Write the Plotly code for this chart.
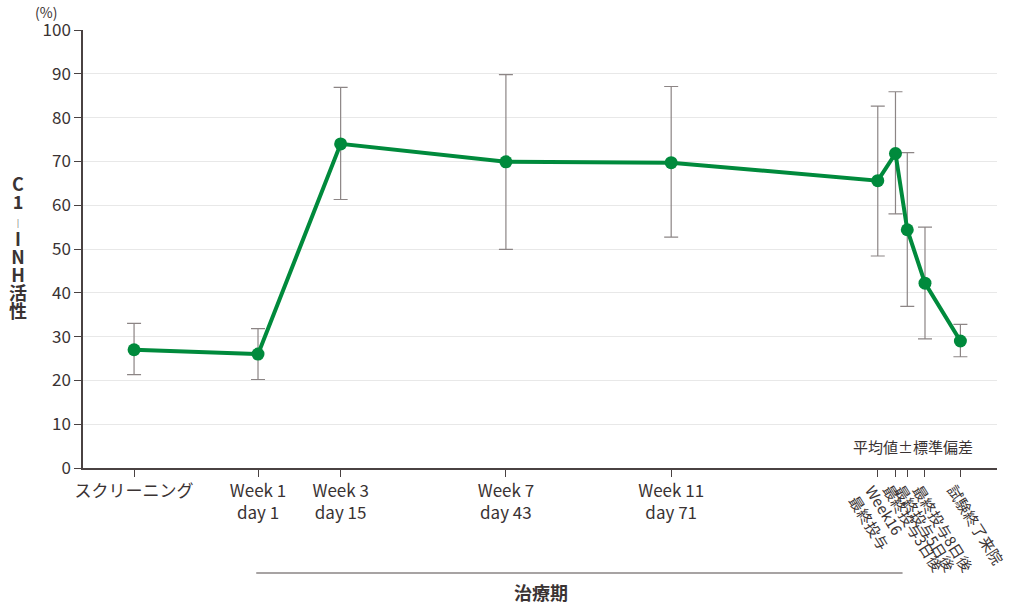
import plotly.graph_objects as go

# ---- data ----
x_days = [-20, 1, 15, 43, 71, 106, 109, 111, 114, 120]
mean_vals = [27.0, 26.0, 74.0, 69.9, 69.7, 65.6, 71.8, 54.4, 42.2, 29.0]
sd_upper = [33.0, 31.8, 86.9, 89.8, 87.1, 82.6, 85.9, 72.0, 55.0, 32.8]
sd_lower = [21.3, 20.2, 61.3, 49.9, 52.7, 48.4, 58.0, 36.9, 29.5, 25.4]

main_tick_vals = [-20, 1, 15, 43, 71]
main_tick_text = ["スクリーニング", "Week 1<br>day 1", "Week 3<br>day 15",
                  "Week 7<br>day 43", "Week 11<br>day 71"]
rot_tick_vals = [106, 109, 111, 114, 120]
rot_tick_text = ["Week16<br>最終投与", "最終投与3日後", "最終投与5日後",
                 "最終投与8日後", "試験終了来院"]

y_title_chars = ["C", "1", "｜", "I", "N", "H", "活", "性"]

FONT = "Noto Sans CJK JP"
TXT = "#3a3333"
GREEN = "#008a3c"

err_plus = [u - m for u, m in zip(sd_upper, mean_vals)]
err_minus = [m - l for m, l in zip(mean_vals, sd_lower)]

fig = go.Figure()
fig.add_trace(go.Scatter(
    x=x_days, y=mean_vals, mode="lines+markers",
    line=dict(color=GREEN, width=4),
    marker=dict(color=GREEN, size=13),
    error_y=dict(type="data", symmetric=False, array=err_plus, arrayminus=err_minus,
                 color="#8c8585", thickness=1.2, width=7),
    showlegend=False,
))

all_ticks = main_tick_vals + rot_tick_vals
all_text = main_tick_text + [""] * len(rot_tick_vals)

fig.update_layout(
    width=1024, height=609,
    margin=dict(l=83, r=27, t=30, b=141),
    paper_bgcolor="white", plot_bgcolor="white",
    font=dict(family=FONT, color=TXT, size=17),
    xaxis=dict(range=[-28.65, 126.2], tickmode="array", tickvals=all_ticks,
               ticktext=all_text, ticks="outside", ticklen=7, tickcolor="#4a4242",
               tickwidth=1.3, showline=True, linecolor="#4a4242", linewidth=1.5,
               showgrid=False, zeroline=False, tickfont=dict(size=17, color=TXT)),
    yaxis=dict(range=[0, 100], tickmode="array", tickvals=list(range(0, 101, 10)),
               ticks="outside", ticklen=7, tickcolor="#4a4242", tickwidth=1.3,
               showline=True, linecolor="#4a4242", linewidth=1.5,
               showgrid=True, gridcolor="#e8e8e8", gridwidth=1, zeroline=False,
               tickfont=dict(size=17, color=TXT)),
)

# rotated tick labels
ang = 58
for v, t in zip(rot_tick_vals, rot_tick_text):
    n = t.count("<br>") + 1
    fig.add_annotation(x=v, y=0, xref="x", yref="paper", text=t, showarrow=False,
                       textangle=ang, xanchor="left", yanchor="top", align="left",
                       xshift=-4 - 16 * n, yshift=-10,
                       font=dict(size=15, color=TXT, family=FONT))

# y-axis title, stacked characters (tight line spacing via base font)
title_html = "<br>".join(
    f"<span style='font-size:{9 if c == '｜' else 18}px'><b>{c}</b></span>"
    for c in y_title_chars)
fig.add_annotation(x=0, y=(468 - 246) / 438, xref="paper", yref="paper", text=title_html,
                   showarrow=False, xanchor="center", yanchor="middle", align="center",
                   xshift=-65, font=dict(size=14, color=TXT, family=FONT))

fig.add_annotation(x=0, y=1.0, xref="paper", yref="paper", text="(%)", showarrow=False,
                   xanchor="right", yanchor="bottom", xshift=-24, yshift=6,
                   font=dict(size=14, color=TXT, family=FONT))

fig.add_annotation(x=112, y=5.0, xref="x", yref="y", text="平均値±標準偏差", showarrow=False,
                   xanchor="center", yanchor="middle",
                   font=dict(size=15, color=TXT, family=FONT))

# treatment period bracket
fig.add_shape(type="line", x0=0.7, x1=110.2, y0=(468 - 573) / 438, y1=(468 - 573) / 438,
              xref="x", yref="paper", line=dict(color="#8a8585", width=1.5))
fig.add_annotation(x=49, y=(468 - 592) / 438, xref="x", yref="paper", text="<b>治療期</b>",
                   showarrow=False, xanchor="center", yanchor="middle",
                   font=dict(size=18, color=TXT, family=FONT))

fig.write_html("out.html")
